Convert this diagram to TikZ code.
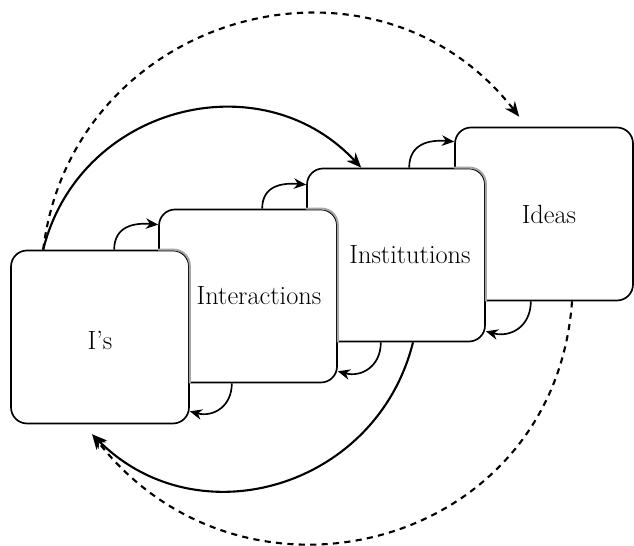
\documentclass[tikz,border=0pt]{standalone}
\usetikzlibrary{arrows.meta,calc,shapes}

\tikzset{
	panel/.style = {draw, fill=white, rounded corners=0.32cm, line width=0.95pt,
		minimum width=3.56cm, minimum height=3.46cm, inner sep=0pt},
	panel text/.style = {font=\fontsize{15}{18}\selectfont},
	hidden edge/.style = {draw=black!35, line width=1.15pt, rounded corners=0.32cm},
	hop arrow/.style = {line width=0.95pt, -{Stealth[length=7pt,width=6pt]}},
	loop arrow/.style = {line width=1.2pt, -{Stealth[length=8.5pt,width=7pt]}},
	far arrow/.style = {loop arrow, dash pattern=on 3.5pt off 3pt},
}

\begin{document}
\begin{tikzpicture}[x=0.02cm, y=0.02cm]
  \useasboundingbox (0,0) rectangle (634,546);

  % panels, back to front
  \node[panel, label={[panel text, xshift=0.1cm]center:Ideas}] (ideas) at (544,332) {};
  \node[panel, label={[panel text, xshift=0.28cm]center:Institutions}] (inst) at (396,291) {};
  \node[panel, label={[panel text, xshift=0.22cm]center:Interactions}] (inter) at (248,250) {};
  \node[panel, label={[panel text, yshift=-0.06cm]center:I's}] (is) at (100,209) {};

  \draw[hidden edge] (inter.west |- is.north) -- (is.north east) -- (is.east |- inter.south);
  \draw[hidden edge] (inst.west |- inter.north) -- (inter.north east) -- (inter.east |- inst.south);
  \draw[hidden edge] (ideas.west |- inst.north) -- (inst.north east) -- (inst.east |- ideas.south);

  % small hops up
  \draw[hop arrow] ($(inter.west |- is.north)+(-44,0)$) to[out=90, in=175, looseness=1.2] ($(inter.west |- is.north)+(0,25)$);
  \draw[hop arrow] ($(inst.west |- inter.north)+(-44,0)$) to[out=90, in=175, looseness=1.2] ($(inst.west |- inter.north)+(0,24)$);
  \draw[hop arrow] ($(ideas.west |- inst.north)+(-45,0)$) to[out=90, in=175, looseness=1.2] ($(ideas.west |- inst.north)+(0,26)$);

  % small hops down
  \draw[hop arrow] ($(is.east |- inter.south)+(42,0)$) to[out=-90, in=-15, looseness=1.2] ($(is.east |- inter.south)+(0,-28)$);
  \draw[hop arrow] ($(inter.east |- inst.south)+(43,0)$) to[out=-90, in=-15, looseness=1.2] ($(inter.east |- inst.south)+(0,-29)$);
  \draw[hop arrow] ($(inst.east |- ideas.south)+(45,0)$) to[out=-90, in=-15, looseness=1.2] ($(inst.east |- ideas.south)+(0,-30)$);

  % long loops
  \coordinate (rise) at ($(is.north west)+(33,0)$);
  \coordinate (return) at ($(is.south west)+(82,-10)$);

  \draw[far arrow] (rise) to[out=83, in=128, looseness=1.23] ($(ideas.north west)+(65,10)$);
  \draw[far arrow] ($(ideas.south)+(28,0)$) to[out=-94, in=-52, looseness=1.27] (return);
  \draw[loop arrow] (rise) to[out=76, in=133, looseness=1.15] ($(inst.north west)+(55,0)$);
  \draw[loop arrow] ($(inst.south)+(17,0)$) to[out=-104, in=-45, looseness=1.15] (return);

\end{tikzpicture}
\end{document}
